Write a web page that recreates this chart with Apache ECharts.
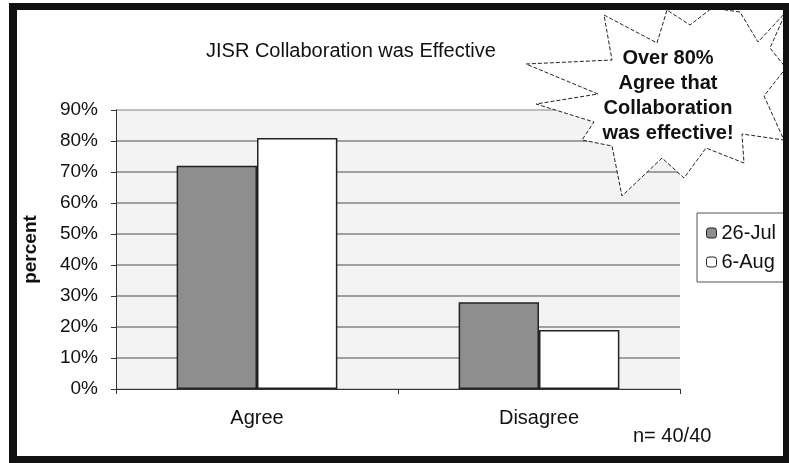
<!DOCTYPE html>
<html>
<head>
<meta charset="utf-8">
<script src="https://cdn.jsdelivr.net/npm/echarts@6/dist/echarts.min.js"></script>
<style>
  html, body { margin: 0; padding: 0; background: #fff; }
  #main { width: 789px; height: 463px; }
</style>
</head>
<body>
<div id="main"></div>
<script>
var categories = ['Agree', 'Disagree'];
var seriesNames = ['26-Jul', '6-Aug'];
var jul26 = [72, 28];
var aug6 = [81, 19];
var calloutLines = ['Over 80%', 'Agree that', 'Collaboration', 'was effective!'];

var FONT = 'Liberation Sans, Arial, sans-serif';
var myChart = echarts.init(document.getElementById('main'));

// starburst outline (decoration only)
var starPts = [
    [604, 15], [657, 43], [667, 10], [690, 25], [712, 8], [740, 12], [758, 42],
    [786, 12], [770, 48], [786, 68], [764, 96], [784, 140], [742, 134],
    [744, 163], [706, 148], [684, 178], [662, 158], [622, 196], [612, 146],
    [582, 140], [594, 122], [536, 104], [598, 94], [526, 64], [612, 60]
];

var option = {
    backgroundColor: '#ffffff',
    animation: false,
    textStyle: { fontFamily: FONT, color: '#111' },
    title: {
        text: 'JISR Collaboration was Effective',
        left: 201,
        top: 36,
        textStyle: { fontSize: 20, fontWeight: 'normal', color: '#111', fontFamily: FONT }
    },
    legend: {
        data: seriesNames,
        orient: 'vertical',
        left: 697,
        top: 213,
        itemWidth: 10,
        itemHeight: 10,
        itemGap: 9,
        padding: [10, 20, 10, 9],
        borderColor: '#555',
        borderWidth: 1,
        itemStyle: { borderWidth: 1 },
        textStyle: { fontSize: 20, color: '#111', padding: [0, 0, 0, 0] }
    },
    grid: {
        left: 116,
        right: 109,
        top: 110,
        bottom: 74,
        show: true,
        backgroundColor: '#f3f3f3',
        borderWidth: 0
    },
    xAxis: {
        type: 'category',
        data: categories,
        axisLine: { lineStyle: { color: '#333', width: 1 } },
        axisTick: { show: true, length: 5, lineStyle: { color: '#333' } },
        axisLabel: { fontSize: 20, color: '#111', margin: 19 }
    },
    yAxis: {
        type: 'value',
        min: 0,
        max: 90,
        interval: 10,
        name: 'percent',
        nameLocation: 'middle',
        nameGap: 76,
        nameTextStyle: { fontSize: 19, fontWeight: 'bold', color: '#111' },
        axisLine: { show: true, lineStyle: { color: '#333' } },
        axisTick: { show: true, length: 5, lineStyle: { color: '#333' } },
        axisLabel: { fontSize: 19, color: '#111', margin: 18, formatter: '{value}%' },
        splitLine: {
            lineStyle: {
                color: ['#bbb', '#858585', '#858585', '#858585', '#858585',
                        '#858585', '#858585', '#858585', '#858585', '#aaa'],
                width: 1.5
            }
        }
    },
    series: [
        {
            name: seriesNames[0],
            type: 'bar',
            data: jul26,
            barGap: '0%',
            barCategoryGap: '43%',
            itemStyle: { color: '#8e8e8e', borderColor: '#222', borderWidth: 1.5 }
        },
        {
            name: seriesNames[1],
            type: 'bar',
            data: aug6,
            itemStyle: { color: '#ffffff', borderColor: '#222', borderWidth: 1.5 }
        }
    ],
    graphic: [
        {
            type: 'polygon',
            shape: { points: starPts },
            style: { fill: '#fff', stroke: '#222', lineWidth: 1, lineDash: [4, 2] },
            z: 50
        },
        {
            type: 'text',
            x: 668,
            y: 46,
            z: 51,
            style: {
                text: calloutLines.join('\n'),
                align: 'center',
                fontSize: 20,
                fontWeight: 'bold',
                fontFamily: FONT,
                lineHeight: 25,
                fill: '#111'
            }
        },
        {
            type: 'text',
            x: 633,
            y: 426,
            style: { text: 'n= 40/40', fontSize: 20, fontFamily: FONT, fill: '#111' }
        },
        // outer frame
        { type: 'rect', shape: { x: 9, y: 3, width: 780, height: 7 }, style: { fill: '#111' }, z: 60 },
        { type: 'rect', shape: { x: 9, y: 3, width: 8, height: 460 }, style: { fill: '#111' }, z: 60 },
        { type: 'rect', shape: { x: 783, y: 3, width: 6, height: 460 }, style: { fill: '#111' }, z: 60 },
        { type: 'rect', shape: { x: 9, y: 456, width: 780, height: 7 }, style: { fill: '#111' }, z: 60 }
    ]
};

myChart.setOption(option);
</script>
</body>
</html>
